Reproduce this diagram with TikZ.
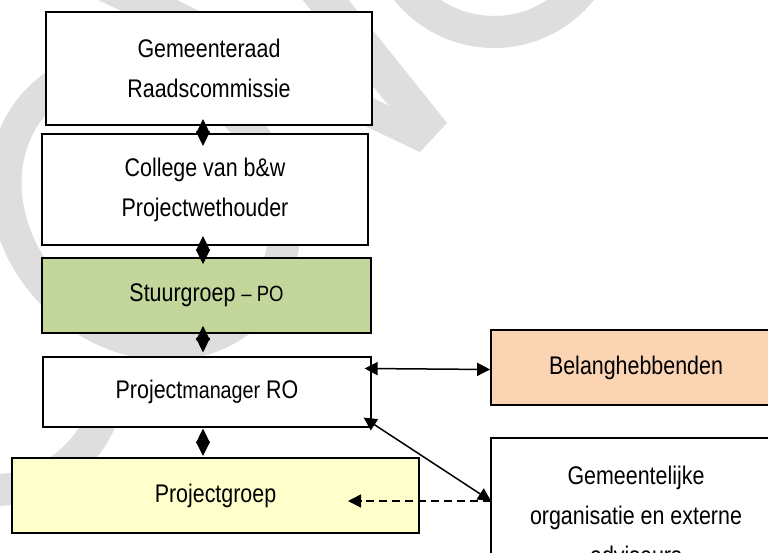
\documentclass[tikz,border=0pt]{standalone}
\usepackage{fontspec}
\setmainfont{Liberation Sans}[FakeStretch=0.84]
\usetikzlibrary{arrows.meta,calc}
\definecolor{wmgray}{HTML}{DEDEDE}
\definecolor{olivelight}{HTML}{C3D69B}
\definecolor{paleyellow}{HTML}{FFFFCC}
\definecolor{peach}{HTML}{FBD4B4}
\begin{document}
\begin{tikzpicture}[x=1pt,y=-1pt,
  box/.style={draw=black, fill=white, rectangle, inner sep=0pt, align=center,
    font=\fontsize{25.5}{40}\selectfont, text=black},
  wm/.style={draw=wmgray, line width=32pt},
  link/.style={draw=black, line width=1.5pt},
  >={Triangle[length=13pt,width=13pt]},
  diam/.style={draw=black, line width=1pt,
    {Triangle[length=14.5pt,width=14pt]}-{Triangle[length=14.5pt,width=14pt]}}
]
\useasboundingbox (0,0) rectangle (768,553);
\clip (0,0) rectangle (768,553);
\fill[white] (0,0) rectangle (768,553);

% watermark
\fill[wmgray] (347,-2) -- (447,123) -- (420,152) -- (94,-2) -- (173,-2) -- (389,106) -- (301,-2) -- cycle;
\draw[wm, rotate around={-45:(145,205)}] (145,205) ellipse [x radius=150, y radius=128];
\draw[wm] ($(-5,375)+(0:115)$) arc[start angle=0, end angle=270, radius=115];
\draw[wm] ($(494,-80)+(0:112)$) arc[start angle=0, end angle=270, radius=112];

% boxes
\node[box, line width=2.2pt, minimum width=326pt, minimum height=113pt] (b1) at (209,68.5)
  {Gemeenteraad\\Raadscommissie};
\node[box, line width=2.2pt, minimum width=326pt, minimum height=111pt] (b2) at (205,189.5)
  {College van b\&w\\Projectwethouder};
\node[box, line width=1.7pt, fill=olivelight, minimum width=329pt, minimum height=75pt] (b3) at (206.5,295.5)
  {Stuurgroep {\fontsize{22}{40}\selectfont – PO}};
\node[box, line width=1.2pt, minimum width=328pt, minimum height=70pt] (b4) at (207,392)
  {Project{\fontsize{23.5}{40}\selectfont manager} RO};
\node[box, line width=2pt, fill=paleyellow, minimum width=407pt, minimum height=75pt] (b5) at (215.5,495.5)
  {Projectgroep};
\node[box, line width=1.7pt, fill=peach, minimum width=290pt, minimum height=75pt] (bel) at (636,367.5)
  {Belanghebbenden};
\node[box, line width=1.7pt, minimum width=290pt, minimum height=154pt] (gem) at (636,515)
  {Gemeentelijke\\organisatie en externe\\adviseurs};

% diamond connectors
\coordinate (dx) at (203,0);
\draw[diam] ($(b1.south -| dx)+(0,-7)$) -- ($(b2.north -| dx)+(0,13)$);
\draw[diam] ($(b2.south -| dx)+(0,-10)$) -- ($(b3.north -| dx)+(0,7)$);
\draw[diam] ($(b3.south -| dx)+(0,-8)$) -- ($(b4.north -| dx)+(0,-4)$);
\draw[diam] ($(b4.south -| dx)+(0,1)$) -- ($(b5.north -| dx)+(0,-1)$);

% side connectors
\coordinate (gd) at (491,501);
\coordinate (pd) at (348,501);
\draw[link,<->] ($(bel.west -| b4.east)+(-7,1)$) -- ($(bel.west)+(0,2)$);
\draw[link,<->] ($(b4.south east)+(-8,-10)$) -- (gd);
\draw[link,->,dash pattern=on 8pt off 5pt] (gd) -- (pd);
\end{tikzpicture}
\end{document}
